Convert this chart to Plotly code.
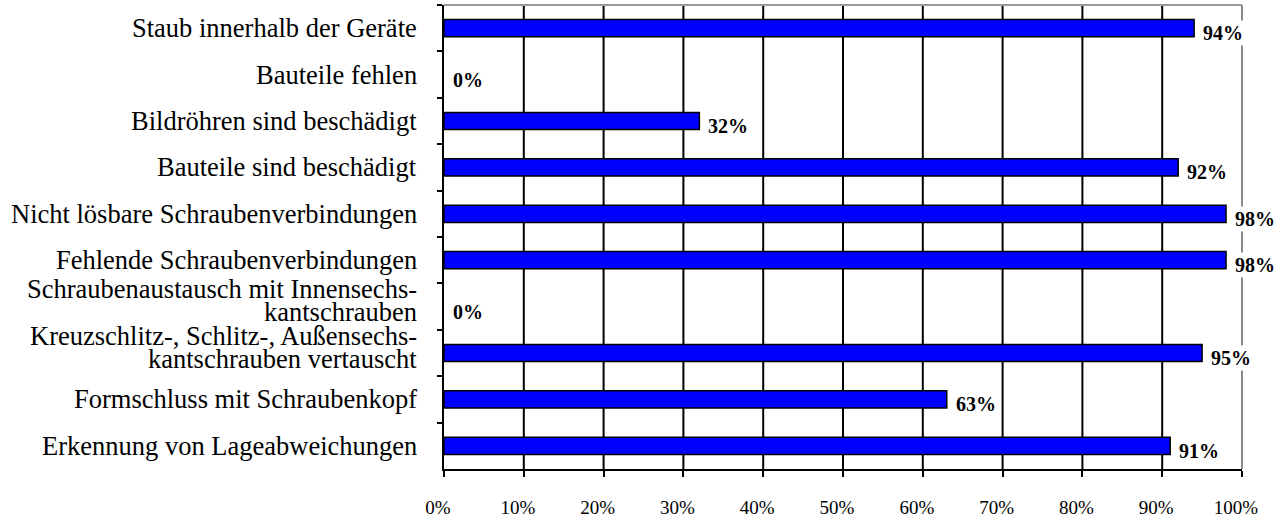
import plotly.graph_objects as go

# Categories (top to bottom) and detection rates in percent
categories = [
    "Staub innerhalb der Geräte",
    "Bauteile fehlen",
    "Bildröhren sind beschädigt",
    "Bauteile sind beschädigt",
    "Nicht lösbare Schraubenverbindungen",
    "Fehlende Schraubenverbindungen",
    "Schraubenaustausch mit Innensechs-\nkantschrauben",
    "Kreuzschlitz-, Schlitz-, Außensechs-\nkantschrauben vertauscht",
    "Formschluss mit Schraubenkopf",
    "Erkennung von Lageabweichungen",
]
values = [94, 0, 32, 92, 98, 98, 0, 95, 63, 91]
x_ticks = [0, 10, 20, 30, 40, 50, 60, 70, 80, 90, 100]

SERIF = "Liberation Serif"
LABEL_SIZE = 26.5
LINE_GAP = 23  # pixel distance between the lines of a wrapped label

fig = go.Figure()
fig.add_trace(go.Bar(
    y=categories,
    x=values,
    orientation="h",
    width=0.37,
    marker=dict(color="#0000FF",
                line=dict(color="black", width=[1.5 if v > 0 else 0 for v in values])),
    hoverinfo="skip",
))

# vertical grid lines at the inner ticks
for t in x_ticks[1:-1]:
    fig.add_shape(type="line", xref="x", yref="paper", x0=t, x1=t, y0=0, y1=1,
                  line=dict(color="black", width=2), layer="below")

# grey frame on top and right side of the plot area
fig.add_shape(type="line", xref="paper", yref="paper", x0=0, x1=1, y0=1, y1=1,
              line=dict(color="#9a9a9a", width=2), layer="below")
fig.add_shape(type="line", xref="paper", yref="paper", x0=1, x1=1, y0=0, y1=1,
              line=dict(color="#8a8a8a", width=2), layer="below")

# category labels, wrapped labels drawn line by line with tight spacing
for cat in categories:
    lines = cat.split("\n")
    n = len(lines)
    for i, line in enumerate(lines):
        shift = (n - 1) / 2 * LINE_GAP - i * LINE_GAP + (6 if n > 1 else 0)
        fig.add_annotation(
            x=0, y=cat, xref="paper", yref="y",
            text=line, showarrow=False,
            xanchor="right", yanchor="middle", xshift=-25, yshift=shift,
            font=dict(family=SERIF, size=LABEL_SIZE, color="black"),
        )

# value labels next to each bar
for cat, v in zip(categories, values):
    fig.add_annotation(
        x=v, y=cat, xref="x", yref="y",
        text=f"<b>{v}%</b>", showarrow=False,
        xanchor="left", yanchor="middle", xshift=7, yshift=-5,
        font=dict(family=SERIF, size=20, color="black"),
        bgcolor="white", borderpad=1,
    )

fig.update_layout(
    width=1281, height=519,
    margin=dict(l=444, r=39, t=5, b=50, autoexpand=False),
    paper_bgcolor="white", plot_bgcolor="white",
    showlegend=False,
)
fig.update_xaxes(
    range=[0, 100], tickvals=x_ticks, ticktext=[f"{t}%" for t in x_ticks],
    showgrid=False, automargin=False,
    showline=True, linecolor="black", linewidth=2,
    ticks="outside", ticklen=6, tickcolor="black", tickwidth=2,
    tickfont=dict(family=SERIF, size=19, color="black"),
    ticklabelstandoff=14, ticklabelshift=-6,
    zeroline=False, fixedrange=True,
)
fig.update_yaxes(
    categoryorder="array", categoryarray=categories, autorange="reversed",
    showline=True, linecolor="black", linewidth=2, automargin=False,
    ticks="outside", ticklen=5, tickcolor="black", tickwidth=2,
    tickson="boundaries", showticklabels=False,
    showgrid=False, zeroline=False, fixedrange=True,
)

fig.write_html("out.html")
